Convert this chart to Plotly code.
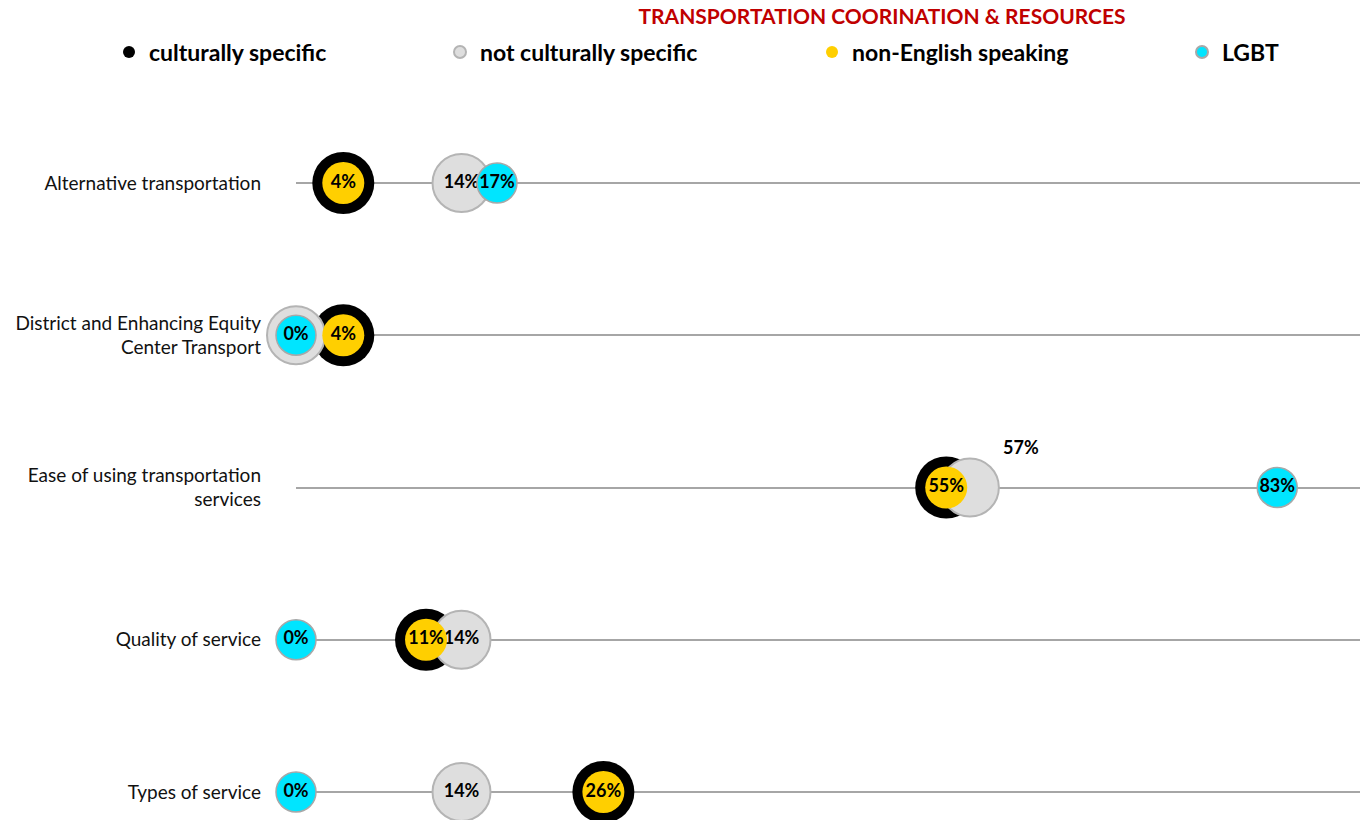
import plotly.graph_objects as go

categories = ["Alternative transportation",
              "District and Enhancing Equity<br>Center Transport",
              "Ease of using transportation<br>services",
              "Quality of service",
              "Types of service"]
culturally_specific = [4, 4, 55, 11, 26]
not_culturally_specific = [14, 0, 57, 14, 14]
non_english = [4, 4, 55, 11, 26]
lgbt = [17, 0, 83, 0, 0]

def pct(vals):
    return [f"{v}%" for v in vals]

FONT = "Lato"
FIG_W, FIG_H = 1363, 820
PLOT_L, PLOT_W, PLOT_T, PLOT_H = 296, 1064, 100, 720

def px_x(page_px):
    return (page_px - PLOT_L) / PLOT_W

def px_y(page_px):
    return 1 - (page_px - PLOT_T) / PLOT_H

mark_font = dict(family=FONT, size=18, color="#000000", weight="bold")

# the "Ease" gray label is drawn as an offset annotation, as in the original
gray_text = pct(not_culturally_specific)
gray_text[2] = ""

fig = go.Figure()

fig.add_trace(go.Scatter(
    x=culturally_specific, y=categories, mode="markers", name="culturally specific",
    marker=dict(size=62, color="#000000", line=dict(width=0)),
    cliponaxis=False, hoverinfo="x+y", legend="legend"))

fig.add_trace(go.Scatter(
    x=not_culturally_specific, y=categories, mode="markers+text", name="not culturally specific",
    marker=dict(size=58, color="#dedede", line=dict(width=2, color="#b4b4b4")),
    text=gray_text, textposition="middle center",
    textfont=mark_font,
    cliponaxis=False, hoverinfo="x+y", legend="legend2"))

fig.add_trace(go.Scatter(
    x=non_english, y=categories, mode="markers+text", name="non-English speaking",
    marker=dict(size=42, color="#ffcf00", line=dict(width=0)),
    text=pct(non_english), textposition="middle center",
    textfont=mark_font,
    cliponaxis=False, hoverinfo="x+y", legend="legend3"))

fig.add_trace(go.Scatter(
    x=lgbt, y=categories, mode="markers+text", name="LGBT",
    marker=dict(size=40, color="#00e5ff", line=dict(width=1.5, color="#a8a8a8")),
    text=pct(lgbt), textposition="middle center",
    textfont=mark_font,
    cliponaxis=False, hoverinfo="x+y", legend="legend4"))

fig.add_annotation(x=not_culturally_specific[2], y=categories[2], xref="x", yref="y",
                   text=f"{not_culturally_specific[2]}%", showarrow=False,
                   xshift=51, yshift=41, font=mark_font)

leg_font = dict(family=FONT, size=23, color="#000000", weight="bold")

def leg(marker_px):
    return dict(orientation="h", x=px_x(marker_px - 23), xanchor="left",
                y=px_y(52), yanchor="middle", itemsizing="constant",
                font=leg_font, bgcolor="rgba(0,0,0,0)")

fig.update_layout(
    width=FIG_W, height=FIG_H,
    margin=dict(l=PLOT_L, r=FIG_W - PLOT_L - PLOT_W, t=PLOT_T, b=FIG_H - PLOT_T - PLOT_H,
                autoexpand=False),
    paper_bgcolor="white", plot_bgcolor="white",
    font=dict(family=FONT, color="#000000"),
    title=dict(text="<b>TRANSPORTATION COORINATION & RESOURCES</b>",
               x=882 / FIG_W, xref="container", xanchor="center",
               y=1 - 17 / FIG_H, yref="container", yanchor="middle",
               font=dict(family=FONT, size=21, color="#c00000")),
    legend=leg(132),
    legend2=leg(463),
    legend3=leg(835),
    legend4=leg(1205),
    showlegend=True,
)
fig.update_xaxes(range=[0, 90], showgrid=False, zeroline=False, showticklabels=False,
                 showline=False, ticks="", automargin=False)
fig.update_yaxes(type="category", categoryorder="array", categoryarray=categories,
                 range=[4 + 28 / 152.25, -83 / 152.25],
                 showgrid=True, gridcolor="#a6a6a6", gridwidth=2,
                 zeroline=False, showline=False, ticks="", automargin=False,
                 ticklabelstandoff=34,
                 tickfont=dict(family=FONT, size=19, color="#111111"))

fig.write_html("out.html", config={"displayModeBar": False},
               post_script="document.body.style.margin='0';document.body.style.overflow='hidden';")
